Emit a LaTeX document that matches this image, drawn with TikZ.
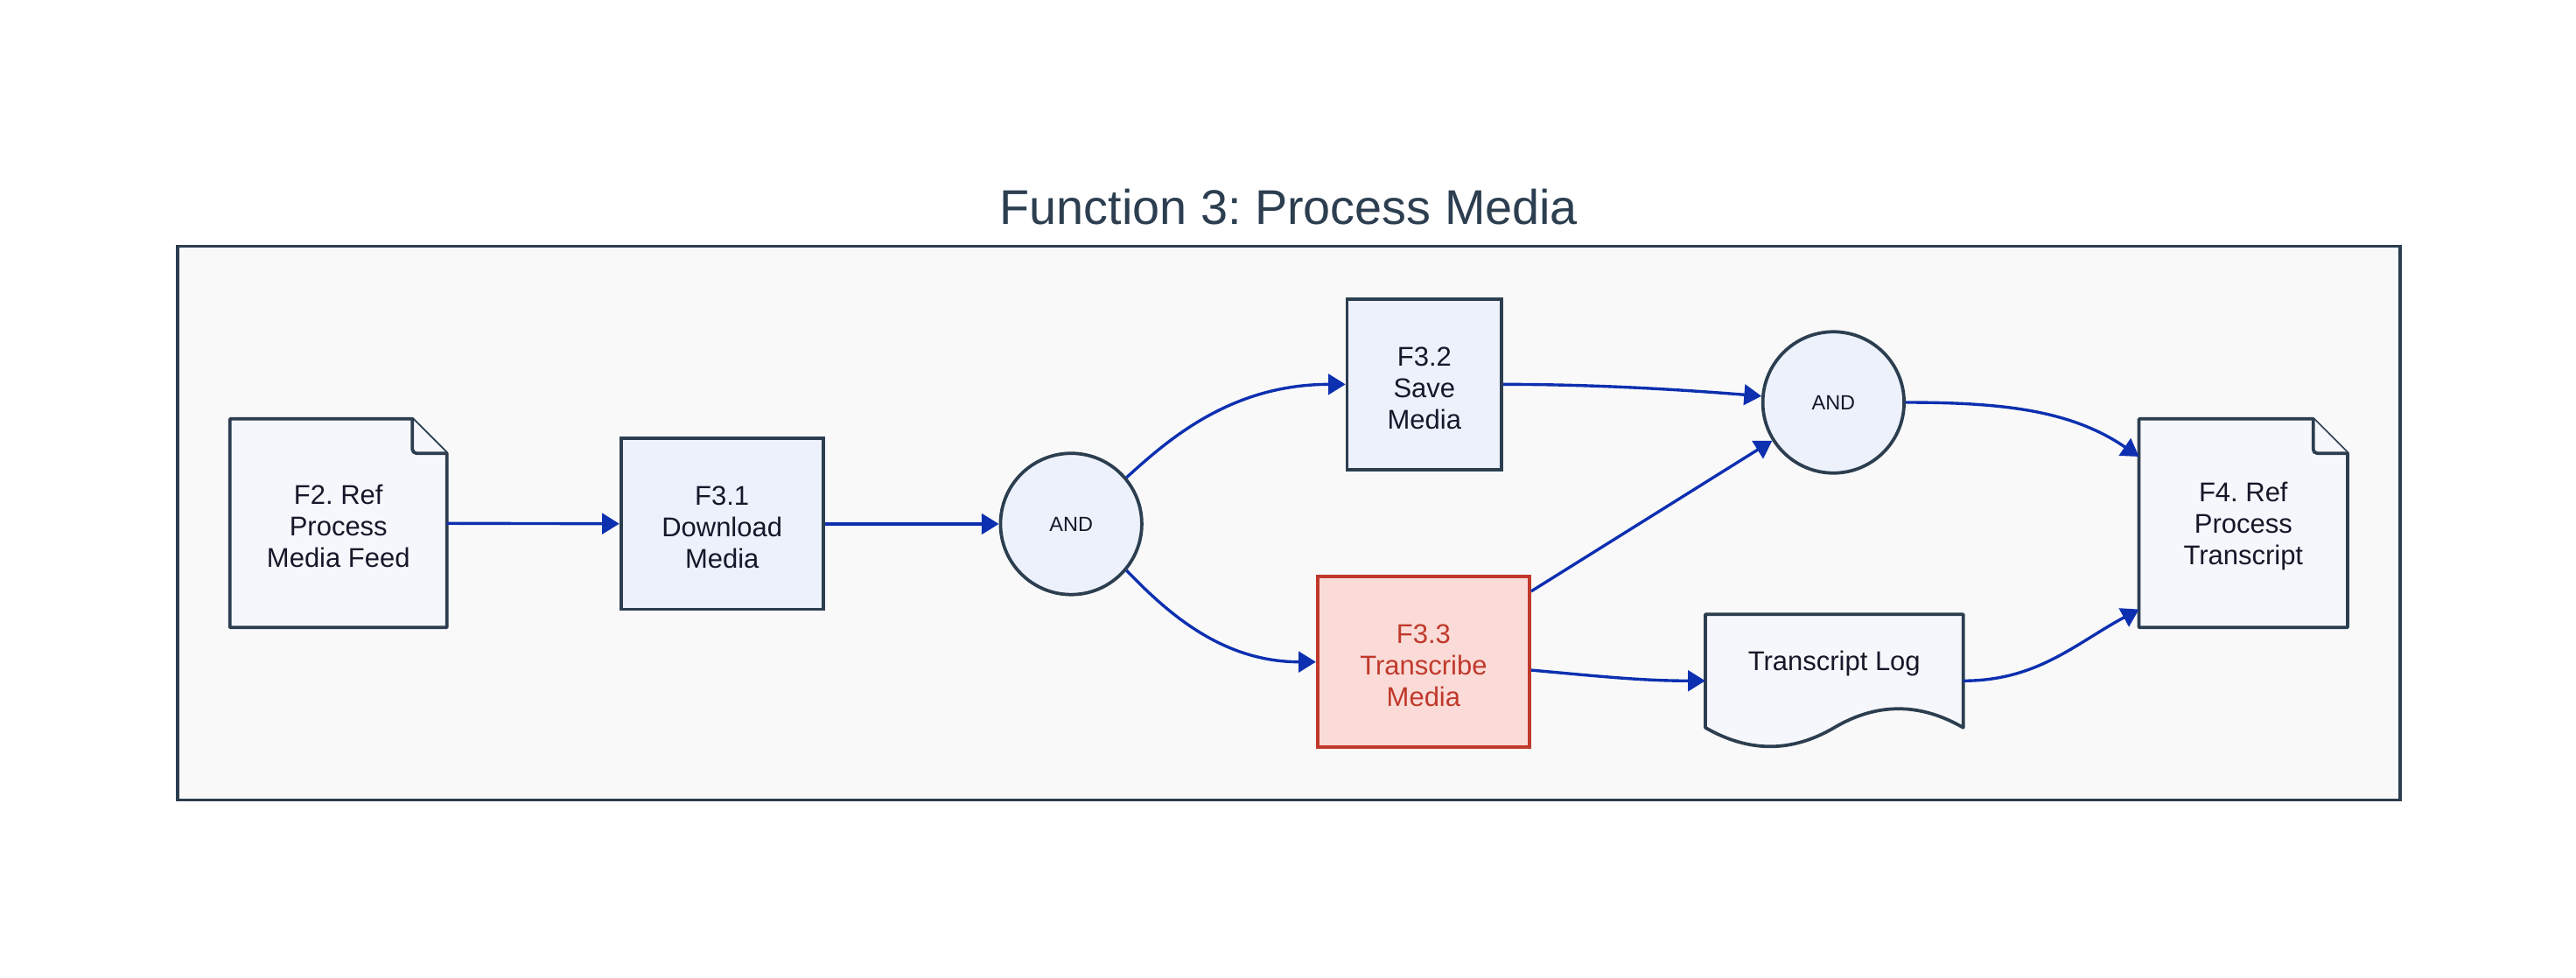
\documentclass[tikz,border=0pt]{standalone}
\usepackage{fontspec}
\setmainfont{Liberation Sans}
\usetikzlibrary{arrows.meta,backgrounds,calc}
\frenchspacing
\definecolor{strokec}{HTML}{2C3E50}
\definecolor{boxfill}{HTML}{ECF1FC}
\definecolor{docfill}{HTML}{F5F7FC}
\definecolor{framefill}{HTML}{F9F9F9}
\definecolor{arrowc}{HTML}{0D30B0}
\definecolor{redc}{HTML}{C0392B}
\definecolor{redfill}{HTML}{FADBD8}
\definecolor{txt}{HTML}{16182A}
\newcommand{\topstrut}{\rule{0pt}{16pt}}
\begin{document}
\frenchspacing
\begin{tikzpicture}[x=1pt,y=-1pt,
  nodetext/.style={font=\fontsize{16.5}{19.2}\selectfont\frenchspacing, text=txt, align=center},
  box/.style={nodetext, draw=strokec, line width=2pt, fill=boxfill, inner sep=0pt},
  doc/.style={nodetext, inner sep=0pt, outer sep=0pt},
  gate/.style={circle, draw=strokec, line width=2pt, fill=boxfill, minimum size=86pt, inner sep=0pt, text=txt, font=\fontsize{12.5}{15}\selectfont},
  docshape/.style={draw=strokec, line width=2pt, fill=docfill, line join=round},
  framebox/.style={draw=strokec, line width=1.9pt, fill=framefill},
  flow/.style={draw=arrowc, line width=1.8pt, -{Triangle[length=10.5pt,width=12.5pt]}}
]
\useasboundingbox (0,0) rectangle (1568,595.45);

\node[font=\fontsize{29.7}{34}\selectfont\frenchspacing, text=strokec] (title) at (784.5,126) {Function 3: Process Media};

\node[doc, minimum width=132pt, minimum height=127pt] (f2) at (206,318.5) {\topstrut F2. Ref\\Process\\Media Feed};
\node[box, minimum width=123pt, minimum height=104pt] (f31) at (439.5,319) {\topstrut F3.1\\Download\\Media};
\node[gate] (and1) at (652,319) {AND};
\node[box, minimum width=94pt, minimum height=104pt] (f32) at (867,234) {\topstrut F3.2\\Save\\Media};
\node[box, draw=redc, fill=redfill, text=redc, minimum width=129pt, minimum height=104pt] (f33) at (866.5,403) {\topstrut F3.3\\Transcribe\\Media};
\node[gate] (and2) at (1116,245) {AND};
\node[doc, minimum width=157pt, minimum height=81pt, label={[nodetext,yshift=10.5pt]center:Transcript Log}] (log) at (1116.5,414.5) {};
\node[doc, minimum width=127pt, minimum height=127pt] (f4) at (1365.5,318.5) {\topstrut F4. Ref\\Process\\Transcript};

\begin{scope}[on background layer]
  \draw[framebox] (108,150) rectangle (1461,487);
  % F2 document
  \path[docshape] (f2.north west) -- ([xshift=-21pt]f2.north east) -- ([yshift=-21pt]f2.north east) -- (f2.south east) -- (f2.south west) -- cycle;
  \path[docshape, rounded corners=2.5pt] ([xshift=-21pt]f2.north east) -- ([xshift=-21pt,yshift=-21pt]f2.north east) -- ([yshift=-21pt]f2.north east);
  % F4 document
  \path[docshape] (f4.north west) -- ([xshift=-21pt]f4.north east) -- ([yshift=-21pt]f4.north east) -- (f4.south east) -- (f4.south west) -- cycle;
  \path[docshape, rounded corners=2.5pt] ([xshift=-21pt]f4.north east) -- ([xshift=-21pt,yshift=-21pt]f4.north east) -- ([yshift=-21pt]f4.north east);
  % Transcript log (wavy document)
  \path[docshape] (log.north west) -- (log.north east) -- ([yshift=12pt]log.south east)
     .. controls ([xshift=52pt,yshift=27.3pt]log.south) and ([xshift=26pt,yshift=27.3pt]log.south) .. ([yshift=12pt]log.south)
     .. controls ([xshift=-26pt,yshift=-3.3pt]log.south) and ([xshift=-52pt,yshift=-3.3pt]log.south) .. ([yshift=12pt]log.south west)
     -- cycle;
\end{scope}

\draw[flow] (f2) -- (f31);
\draw[flow] (f31) -- (and1);
\draw[flow] (and1.40) .. controls +(25,-22.7) and +(-70,0) .. (f32.west);
\draw[flow] (and1.-40) .. controls +(25,26) and +(-57,0) .. (f33.west);
\draw[flow] (f32.east) .. controls +(46,0) and +(-62,-5) .. (and2.175);
\draw[flow] ([yshift=-10pt]f33.north east) -- (and2);
\draw[flow] ([yshift=-5pt]f33.east) .. controls +(44,4) and +(-38,0) .. (log.west);
\draw[flow] (and2.east) .. controls +(60,0) and +(-41,-28) .. ([yshift=40.5pt]f4.west);
\draw[flow] (log.east) .. controls +(45,0) and +(-39,21) .. ([yshift=-52.5pt]f4.west);
\end{tikzpicture}
\end{document}
